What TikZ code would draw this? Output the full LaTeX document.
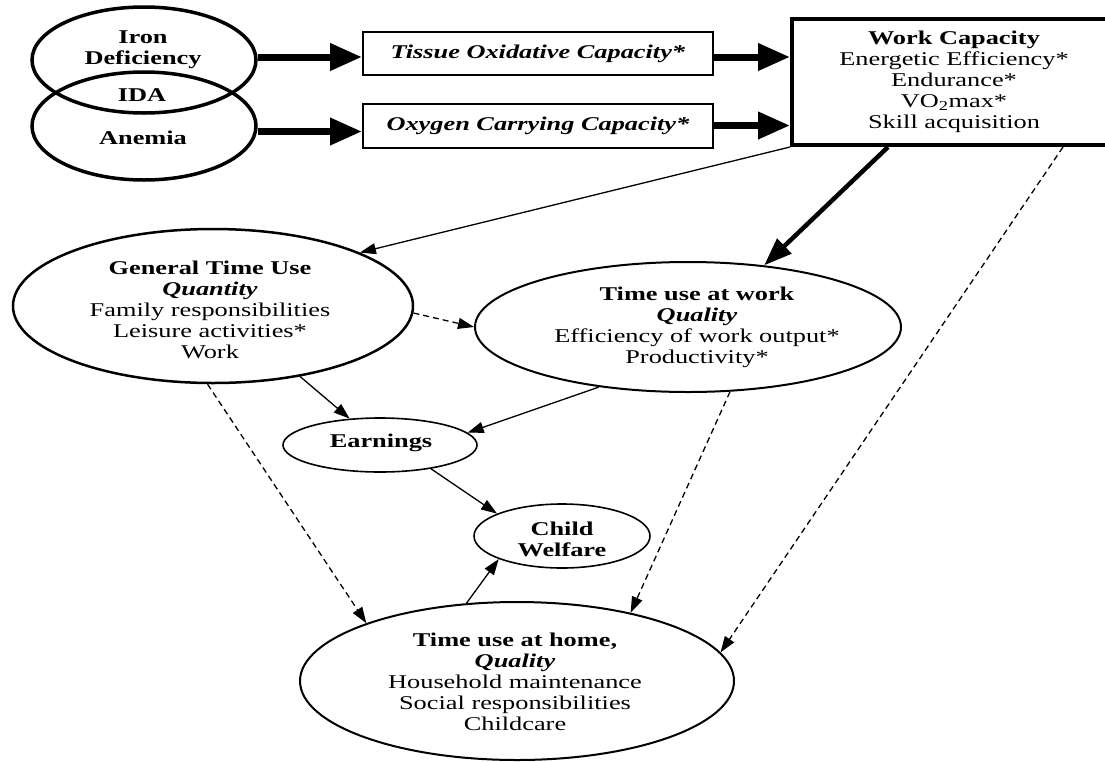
\documentclass[tikz,border=0pt]{standalone}
\usepackage{fontspec}
\setmainfont{Liberation Serif}[FakeStretch=1.35]
\usetikzlibrary{shapes.geometric,arrows.meta}
\begin{document}
\begin{tikzpicture}[x=1pt,y=-1pt,
  ell/.style={draw, ellipse, inner sep=0pt},
  box/.style={draw, rectangle, inner sep=0pt},
  txt/.style={align=center, inner sep=0pt, font=\fontsize{19.5}{21}\selectfont},
  thickarr/.style={line width=7pt, -{Triangle[length=32pt,width=26pt]}},
  medarr/.style={line width=4.5pt, -{Triangle[length=28pt,width=20pt]}},
  thinarr/.style={line width=1.3pt, -{Triangle[length=16pt,width=11pt]}},
  dasharr/.style={thinarr, dash pattern=on 6pt off 4pt},
]
\useasboundingbox (0,0) rectangle (1105,761);
\clip (0,0) rectangle (1105,761);

% top-left ellipses
\node[ell, minimum width=224pt, minimum height=106pt, line width=3.5pt] (iron) at (144,60) {};
\node[ell, minimum width=224pt, minimum height=108pt, line width=3.5pt] (anemia) at (144,126) {};
\node[txt] (iront) at (143,50) {\textbf{Iron}\\\textbf{Deficiency}};
\node[txt] (ida) at (142,95) {\textbf{IDA}};
\node[txt] (anemiat) at (143,138) {\textbf{Anemia}};

% boxes
\node[box, minimum width=350pt, minimum height=43pt, line width=2pt] (tissue) at (538,53.5) {};
\node[txt] (tissuet) at (tissue) {\textbf{\textit{Tissue Oxidative Capacity*}}};
\node[box, minimum width=350pt, minimum height=44pt, line width=2pt] (oxygen) at (538,125.5) {};
\node[txt] (oxygent) at (oxygen) {\textbf{\textit{Oxygen Carrying Capacity*}}};

\node[box, minimum width=320pt, minimum height=126pt, line width=4pt] (wc) at (952,82) {};
\node[txt] (wct) at (954,82) {\textbf{Work Capacity}\\Energetic Efficiency*\\Endurance*\\VO\textsubscript{2}max*\\Skill acquisition};

% middle ellipses
\node[ell, minimum width=400pt, minimum height=154pt, line width=2.5pt] (gtu) at (213,306) {};
\node[txt] (gtut) at (210,310) {\textbf{General Time Use}\\\textbf{\textit{Quantity}}\\Family responsibilities\\Leisure activities*\\Work};

\node[ell, minimum width=426pt, minimum height=130pt, line width=2pt] (tuw) at (688,327) {};
\node[txt] (tuwt) at (697,327) {\textbf{Time use at work}\\\textbf{\textit{Quality}}\\Efficiency of work output*\\Productivity*};

\node[ell, minimum width=194pt, minimum height=54pt, line width=1.6pt] (earn) at (380,445) {};
\node[txt] (earnt) at (381,443) {\textbf{Earnings}};

\node[ell, minimum width=176pt, minimum height=64pt, line width=1.6pt] (child) at (562,536) {};
\node[txt] (childt) at (562,539) {\textbf{Child}\\\textbf{Welfare}};

\node[ell, minimum width=434pt, minimum height=158pt, line width=2pt] (home) at (517,681) {};
\node[txt] (homet) at (515,682) {\textbf{Time use at home,}\\\textbf{\textit{Quality}}\\Household maintenance\\Social responsibilities\\Childcare};

% thick arrows at top
\coordinate (t1) at ([yshift=-3.5pt]tissue.west);
\coordinate (o1) at ([yshift=-6pt]oxygen.west);
\draw[thickarr] (iron.east |- t1) -- (t1);
\draw[thickarr] (anemia.east |- o1) -- (o1);
\coordinate (t2) at ([yshift=-3.5pt]tissue.east);
\draw[thickarr] (t2) -- (t2 -| wc.west);
\draw[thickarr] (oxygen.east) -- (oxygen.east -| wc.west);

% from work capacity
\draw[thinarr] (wc.south west) -- (gtu.20.5);
\draw[medarr] ([xshift=-64pt]wc.south) -- (tuw.39);
\draw[dasharr] ([xshift=111pt]wc.south) -- (home.8.8);

% between middle nodes
\draw[dasharr] (gtu.-2.6) -- (tuw.west);
\draw[thinarr] (gtu.-39.6) -- (earn.139);
\draw[thinarr] (tuw.214.3) -- (earn.8.9);
\draw[thinarr] (earn.-25) -- (child.161.6);
\draw[thinarr] (home.123.4) -- (child.-160.1);
\draw[dasharr] (gtu.-94) -- (home.159.4);
\draw[dasharr] (tuw.-57) -- (home.31);
\end{tikzpicture}
\end{document}
